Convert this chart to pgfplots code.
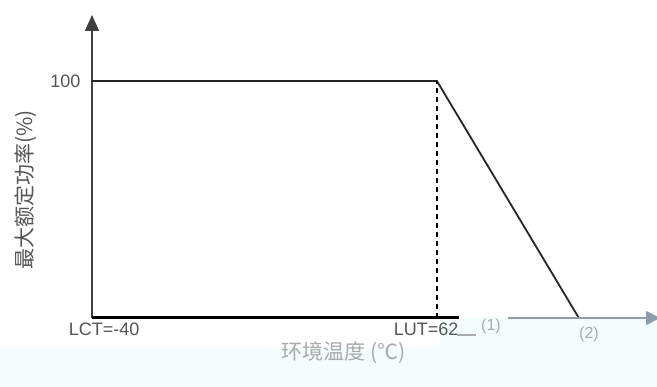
\documentclass[border=0pt]{standalone}
\usepackage{pgfplots}
\pgfplotsset{compat=1.18}
\usepackage{fontspec}
\setmainfont{Liberation Sans}
\newfontfamily\cjk{Noto Sans CJK SC}
\usetikzlibrary{arrows.meta}
\definecolor{bgcyan}{RGB}{244,253,253}
\definecolor{axisblue}{RGB}{140,158,172}
\definecolor{txtgrey}{RGB}{85,85,85}
\definecolor{faint}{RGB}{170,170,170}

\begin{document}
\begin{tikzpicture}
  \path[use as bounding box] (0,0) rectangle (657pt,387pt);
  \fill[bgcyan] (0,0) -- (657pt,0) -- (657pt,69pt) -- (440pt,69pt)
    -- (440pt,40pt) -- (0,40pt) -- cycle;
  \begin{axis}[
    at={(92pt,69pt)}, anchor=south west,
    scale only axis,
    width=568pt, height=303pt,
    xmin=-40, xmax=128, ymin=0, ymax=127.8,
    axis lines=left,
    clip=false,
    x axis line style={draw=none},
    y axis line style={draw=black!75, line width=1.6pt,
      -{Triangle[width=14pt,length=16pt]}},
    major tick length=0pt,
    ytick={100}, yticklabels={100},
    yticklabel style={font=\fontsize{18}{18}\selectfont, text=txtgrey, xshift=-8pt},
    xtick={-36.4,58.8}, xticklabels={LCT=-40, LUT=62},
    xticklabel style={font=\fontsize{18}{18}\selectfont, text=txtgrey, yshift=-1pt},
    /pgf/number format/assume math mode=true,
  ]
    % power curve
    \addplot[black!85, line width=1.8pt, line join=miter] coordinates {(-40,100) (62,100) (104,0)};
    % dashed guide at LUT
    \addplot[black, line width=1.4pt, dash pattern=on 5pt off 4pt] coordinates {(62,0) (62,100)};
    % x axis: black part and blue-grey arrow part
    \addplot[black, line width=3pt] coordinates {(-40,0) (68.5,0)};
    \addplot[axisblue, line width=1.8pt, -{Triangle[width=14pt,length=14pt]}] coordinates {(83,0) (128,0)};
    \draw[faint, line width=2pt] (axis cs:68,-7) -- (axis cs:73.5,-7);
    \node[text=faint, font=\fontsize{16}{16}\selectfont] at (axis cs:78,-3.5) {(1)};
    \node[text=faint, font=\fontsize{16}{16}\selectfont] at (axis cs:107,-7) {(2)};
    \node[text=faint, font=\cjk\fontsize{21}{21}\selectfont] at (axis cs:34.5,-14.5) {环境温度 (℃)};
    \node[text=txtgrey, rotate=90, font=\cjk\fontsize{21}{21}\selectfont] at (axis cs:-59.5,54) {最大额定功率(\%)};
  \end{axis}
\end{tikzpicture}
\end{document}
